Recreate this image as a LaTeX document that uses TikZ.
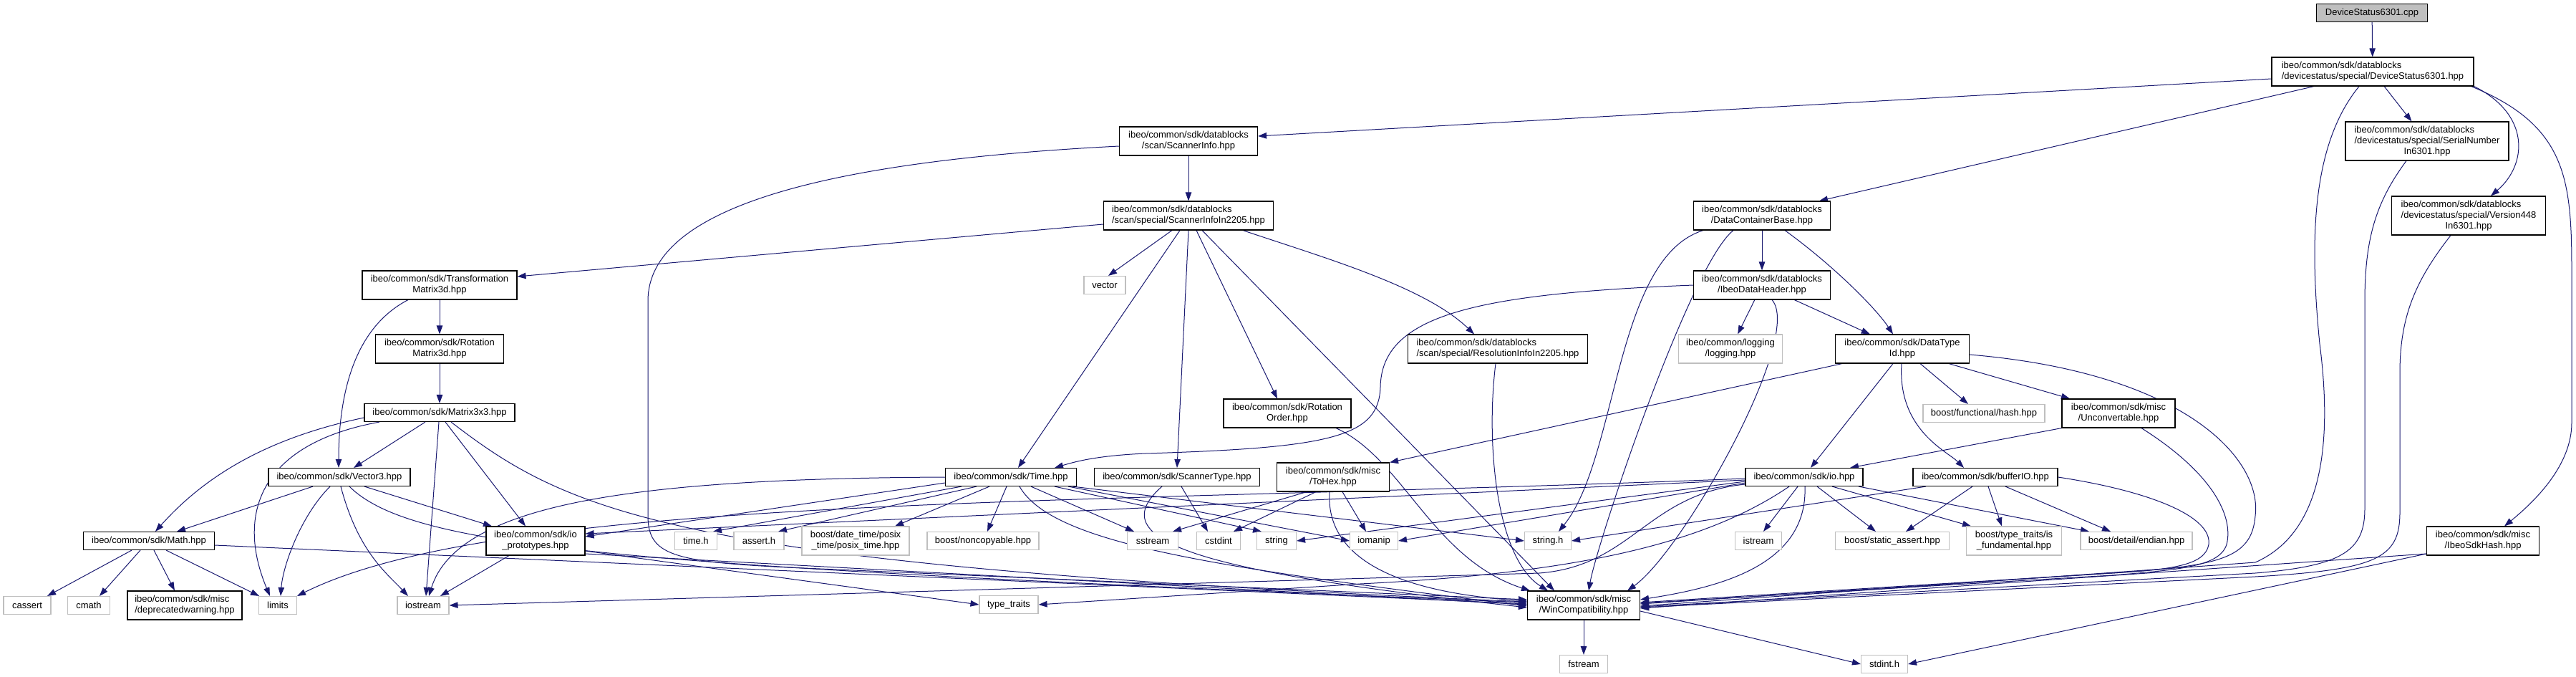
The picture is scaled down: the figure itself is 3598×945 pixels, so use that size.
\documentclass[tikz,border=0pt]{standalone}
\usepackage{fontspec}
\setmainfont{Liberation Sans}
\usetikzlibrary{arrows.meta}
\definecolor{edgec}{HTML}{191970}
\definecolor{grayb}{HTML}{BFBFBF}
\newcommand\TL[2]{\begin{tabular}{@{}l@{}}#1\\#2\end{tabular}}
\newcommand\TC[2]{\begin{tabular}{@{}l@{}}#1\\\multicolumn{1}{@{}c@{}}{#2}\end{tabular}}
\newcommand\TTC[3]{\begin{tabular}{@{}l@{}}#1\\#2\\\multicolumn{1}{@{}c@{}}{#3}\end{tabular}}
\pgfdeclarelayer{bg}
\pgfsetlayers{bg,main}
\begin{document}
\begin{tikzpicture}[x=1pt,y=-1pt,
  nd/.style={draw=black,line width=1.1pt,fill=white,inner sep=0pt,minimum height=25pt,
    font=\fontsize{13pt}{15pt}\selectfont},
  gn/.style={nd,draw=grayb},
  e/.style={draw=edgec,line width=1pt,-{Triangle[length=12pt,width=8.5pt]}}]
\useasboundingbox (0,0) rectangle (3598,945);

\node[nd,fill=grayb,minimum width=155pt] (A) at (3313,18) {DeviceStatus6301.cpp};
\node[nd,minimum width=282pt,minimum height=40pt] (B) at (3314,100) {\TL{ibeo/common/sdk/datablocks}{/devicestatus/special/DeviceStatus6301.hpp}};
\node[nd,minimum width=228pt,minimum height=54pt] (SN) at (3390,197) {\TTC{ibeo/common/sdk/datablocks}{/devicestatus/special/SerialNumber}{In6301.hpp}};
\node[nd,minimum width=215pt,minimum height=54pt] (V448) at (3448,301) {\TTC{ibeo/common/sdk/datablocks}{/devicestatus/special/Version448}{In6301.hpp}};
\node[nd,minimum width=193pt,minimum height=40pt] (SI) at (1660,197) {\TC{ibeo/common/sdk/datablocks}{/scan/ScannerInfo.hpp}};
\node[nd,minimum width=237pt,minimum height=40pt] (SI2) at (1660,301) {\TL{ibeo/common/sdk/datablocks}{/scan/special/ScannerInfoIn2205.hpp}};
\node[nd,minimum width=191pt,minimum height=40pt] (DCB) at (2461,301) {\TC{ibeo/common/sdk/datablocks}{/DataContainerBase.hpp}};
\node[nd,minimum width=191pt,minimum height=40pt] (IDH) at (2461,398) {\TC{ibeo/common/sdk/datablocks}{/IbeoDataHeader.hpp}};
\node[nd,minimum width=216pt,minimum height=40pt] (TM) at (614,398) {\TC{ibeo/common/sdk/Transformation}{Matrix3d.hpp}};
\node[gn,minimum width=58pt] (VEC) at (1543,398) {vector};
\node[nd,minimum width=179pt,minimum height=40pt] (RM) at (614,487) {\TC{ibeo/common/sdk/Rotation}{Matrix3d.hpp}};
\node[nd,minimum width=251pt,minimum height=40pt] (RI) at (2092,487) {\TL{ibeo/common/sdk/datablocks}{/scan/special/ResolutionInfoIn2205.hpp}};
\node[gn,minimum width=145pt,minimum height=40pt] (LOG) at (2417,487) {\TC{ibeo/common/logging}{/logging.hpp}};
\node[nd,minimum width=187pt,minimum height=40pt] (DTI) at (2657,487) {\TC{ibeo/common/sdk/DataType}{Id.hpp}};
\node[nd,minimum width=210pt] (M33) at (614,576) {ibeo/common/sdk/Matrix3x3.hpp};
\node[nd,minimum width=178pt,minimum height=40pt] (RO) at (1798,577) {\TC{ibeo/common/sdk/Rotation}{Order.hpp}};
\node[gn,minimum width=170pt] (HASH) at (2771,577) {boost/functional/hash.hpp};
\node[nd,minimum width=158pt,minimum height=40pt] (UC) at (2959,577) {\TC{ibeo/common/sdk/misc}{/Unconvertable.hpp}};
\node[nd,minimum width=198pt] (VEC3) at (474,666) {ibeo/common/sdk/Vector3.hpp};
\node[nd,minimum width=183pt] (TIME) at (1412,666) {ibeo/common/sdk/Time.hpp};
\node[nd,minimum width=231pt] (ST) at (1644,666) {ibeo/common/sdk/ScannerType.hpp};
\node[nd,minimum width=157pt,minimum height=40pt] (TH) at (1862,666) {\TC{ibeo/common/sdk/misc}{/ToHex.hpp}};
\node[nd,minimum width=164pt] (IO) at (2520,666) {ibeo/common/sdk/io.hpp};
\node[nd,minimum width=202pt] (BIO) at (2773,666) {ibeo/common/sdk/bufferIO.hpp};
\node[nd,minimum width=183pt] (MATH) at (208,755) {ibeo/common/sdk/Math.hpp};
\node[nd,minimum width=138pt,minimum height=40pt] (IOP) at (748,755) {\TC{ibeo/common/sdk/io}{\_prototypes.hpp}};
\node[gn,minimum width=59pt] (TIMEH) at (972,755) {time.h};
\node[gn,minimum width=70pt] (ASSERTH) at (1060,755) {assert.h};
\node[gn,minimum width=150pt,minimum height=40pt] (POSIX) at (1195,755) {\TC{boost/date\_time/posix}{\_time/posix\_time.hpp}};
\node[gn,minimum width=156pt] (NONC) at (1373,755) {boost/noncopyable.hpp};
\node[gn,minimum width=71pt] (SSTREAM) at (1610,755) {sstream};
\node[gn,minimum width=61pt] (CSTDINT) at (1702,755) {cstdint};
\node[gn,minimum width=55pt] (STRING) at (1783,755) {string};
\node[gn,minimum width=67pt] (IOMANIP) at (1919,755) {iomanip};
\node[gn,minimum width=65pt] (STRINGH) at (2162,755) {string.h};
\node[gn,minimum width=65pt] (ISTREAM) at (2456,755) {istream};
\node[gn,minimum width=159pt] (SASSERT) at (2643,755) {boost/static\_assert.hpp};
\node[gn,minimum width=133pt,minimum height=40pt] (ISFUND) at (2813,755) {\TC{boost/type\_traits/is}{\_fundamental.hpp}};
\node[gn,minimum width=156pt] (ENDIAN) at (2984,755) {boost/detail/endian.hpp};
\node[nd,minimum width=157pt,minimum height=40pt] (SDKHASH) at (3468,755) {\TC{ibeo/common/sdk/misc}{/IbeoSdkHash.hpp}};
\node[gn,minimum width=66pt] (CASSERT) at (38,845) {cassert};
\node[gn,minimum width=59pt] (CMATH) at (124,845) {cmath};
\node[nd,minimum width=160pt,minimum height=40pt] (DEPR) at (258,845) {\TL{ibeo/common/sdk/misc}{/deprecatedwarning.hpp}};
\node[gn,minimum width=53pt] (LIMITS) at (388,845) {limits};
\node[gn,minimum width=72pt] (IOSTREAM) at (591,845) {iostream};
\node[gn,minimum width=82pt] (TT) at (1409,844) {type\_traits};
\node[nd,minimum width=157pt,minimum height=40pt] (WC) at (2212,845) {\TC{ibeo/common/sdk/misc}{/WinCompatibility.hpp}};
\node[gn,minimum width=67pt] (FSTREAM) at (2212,927) {fstream};
\node[gn,minimum width=65pt] (STDINTH) at (2632,927) {stdint.h};

\begin{pgfonlayer}{bg}
% top
\draw[e] (A) -- (B);
\draw[e] (B) -- (SN);
\draw[e] ([xshift=-82pt]B.south) -- ([xshift=80pt]DCB.north);
\draw[e] ([yshift=-10pt]B.west) -- ([yshift=7pt]SI.east);
\draw[e] (B.south east) .. controls (3535,160) and (3530,230) .. ([xshift=31pt]V448.north);
\draw[e] ([xshift=-4pt]B.south east) .. controls (3585,175) and (3592,250) .. (3592,380) -- (3592,590) .. controls (3592,650) and (3540,700) .. ([xshift=30pt]SDKHASH.north);
\draw[e] ([xshift=-19pt]B.south) .. controls (3230,200) and (3225,330) .. (3240,480) .. controls (3262,650) and (3230,750) .. (3150,785) -- ([yshift=-1pt]WC.east);
\draw[e] ([xshift=-29pt]SN.south) .. controls (3320,280) and (3303,330) .. (3303,420) -- (3303,710) .. controls (3303,770) and (3270,790) .. (3150,800) -- ([yshift=-2pt]WC.east);
\draw[e] ([xshift=-25pt]V448.south) .. controls (3375,390) and (3352,440) .. (3352,520) -- (3352,715) .. controls (3352,780) and (3320,795) .. (3150,805) -- ([yshift=-3pt]WC.east);
\draw[e] ([yshift=-18pt]SDKHASH.west) -- ([yshift=-4pt]WC.east);
\draw[e] ([yshift=-18pt]SDKHASH.west) -- (STDINTH.east);
% ScannerInfo
\draw[e] (SI) -- (SI2);
\draw[e] ([yshift=-7pt]SI.west) .. controls (1150,225) and (905,290) .. (905,420) -- (905,720) .. controls (905,775) and (940,784) .. (1100,792) -- ([yshift=8pt]WC.west);
\draw[e] ([yshift=-12pt]SI2.west) -- ([yshift=12pt]TM.east);
\draw[e] ([xshift=-23pt]SI2.south) -- ([xshift=5pt]VEC.north);
\draw[e] ([xshift=-12pt]SI2.south) -- ([xshift=10pt]TIME.north);
\draw[e] (SI2.south) -- (ST.north);
\draw[e] ([xshift=11pt]SI2.south) -- ([xshift=-14pt]RO.north);
\draw[e] ([xshift=19pt]SI2.south) -- ([xshift=-41pt]WC.north);
\draw[e] ([xshift=76pt]SI2.south) .. controls (1850,360) and (1990,400) .. ([xshift=-33pt]RI.north);
% left cluster
\draw[e] (TM) -- (RM);
\draw[e] ([xshift=-44pt]TM.south) .. controls (490,460) and (473,560) .. ([xshift=-1pt]VEC3.north);
\draw[e] (RM) -- (M33);
\draw[e] ([xshift=-20pt]M33.south) -- ([xshift=20pt]VEC3.north);
\draw[e] ([yshift=-7pt]M33.west) .. controls (380,610) and (290,660) .. ([xshift=9pt]MATH.north);
\draw[e] ([xshift=-84pt]M33.south) .. controls (360,620) and (330,720) .. ([xshift=-11pt]LIMITS.north);
\draw[e] ([xshift=-1pt]M33.south) -- ([xshift=4pt]IOSTREAM.north);
\draw[e] ([xshift=8pt]M33.south) -- ([xshift=-14pt]IOP.north);
\draw[e] ([xshift=16pt]M33.south) .. controls (800,720) and (950,790) .. ([yshift=5pt]WC.west);
\draw[e] ([xshift=-37pt]VEC3.south) -- ([xshift=39pt]MATH.north);
\draw[e] ([xshift=35pt]VEC3.south) -- ([xshift=-61pt]IOP.north);
\draw[e] ([xshift=-13pt]VEC3.south) .. controls (420,720) and (395,790) .. ([xshift=4pt]LIMITS.north);
\draw[e] ([xshift=2pt]VEC3.south) .. controls (500,770) and (540,800) .. ([xshift=-21pt]IOSTREAM.north);
\draw[e] ([xshift=14pt]VEC3.south) .. controls (580,770) and (900,790) .. ([yshift=4pt]WC.west);
\draw[e] ([xshift=-24pt]MATH.south) -- ([xshift=28pt]CASSERT.north);
\draw[e] ([xshift=-12pt]MATH.south) -- ([xshift=15pt]CMATH.north);
\draw[e] ([xshift=7pt]MATH.south) -- ([xshift=-14pt]DEPR.north);
\draw[e] ([xshift=24pt]MATH.south) -- ([xshift=-26pt]LIMITS.north);
\draw[e] ([yshift=-6pt]MATH.east) -- ([yshift=2pt]WC.west);
\draw[e] ([xshift=-37pt]IOP.south) -- ([xshift=24pt]IOSTREAM.north);
\draw[e] ([yshift=-14pt]IOP.east) -- (TT.west);
\draw[e] ([yshift=-18pt]IOP.east) -- ([yshift=1pt]WC.west);
% Time
\draw[e] ([xshift=-69pt]TIME.south) -- ([xshift=24pt]TIMEH.north);
\draw[e] ([xshift=-48pt]TIME.south) -- ([xshift=27pt]ASSERTH.north);
\draw[e] ([xshift=-30pt]TIME.south) -- ([xshift=55pt]POSIX.north);
\draw[e] ([xshift=-6pt]TIME.south) -- ([xshift=6pt]NONC.north);
\draw[e] ([xshift=28pt]TIME.south) -- ([xshift=-26pt]SSTREAM.north);
\draw[e] ([xshift=61pt]TIME.south) -- ([xshift=-21pt]STRING.north);
\draw[e] ([xshift=80pt]TIME.south) -- (IOMANIP.west);
\draw[e] ([xshift=86pt]TIME.south) -- (STRINGH.west);
\draw[e] ([yshift=-8pt]TIME.west) -- ([yshift=6pt]IOP.east);
\draw[e] (TIME.west) .. controls (900,668) and (640,700) .. ([xshift=8pt]IOSTREAM.north);
\draw[e] ([xshift=12pt]TIME.south) .. controls (1470,760) and (1700,792) .. ([yshift=-1pt]WC.west);
\draw[e] ([xshift=6pt]ST.south) -- ([xshift=-15pt]CSTDINT.north);
\draw[e] ([xshift=-21pt]ST.south) .. controls (1530,760) and (1700,800) .. ([yshift=-3pt]WC.west);
\draw[e] ([xshift=-37pt]TH.south) -- ([xshift=28pt]SSTREAM.north);
\draw[e] ([xshift=-24pt]TH.south) -- ([xshift=21pt]CSTDINT.north);
\draw[e] ([xshift=13pt]TH.south) -- ([xshift=-11pt]IOMANIP.north);
\draw[e] ([xshift=-5pt]TH.south) .. controls (1850,800) and (2000,830) .. ([yshift=6pt]WC.west);
\draw[e] ([xshift=68pt]RO.south) .. controls (1960,640) and (2000,780) .. ([xshift=4pt]WC.north west);
\draw[e] ([xshift=-3pt]RI.south) .. controls (2075,620) and (2090,780) .. ([xshift=-50pt]WC.north);
% data container
\draw[e] (DCB) -- (IDH);
\draw[e] ([xshift=32pt]DCB.south) .. controls (2560,370) and (2620,430) .. ([xshift=-13pt]DTI.north);
\draw[e] ([xshift=-82pt]DCB.south) .. controls (2255,360) and (2260,640) .. ([xshift=15pt]STRINGH.north);
\draw[e] ([xshift=-40pt]DCB.south) .. controls (2360,370) and (2230,760) .. ([xshift=7pt]WC.north);
\draw[e] (IDH) -- (LOG);
\draw[e] (IDH) -- (DTI);
\draw[e] ([xshift=14pt]IDH.south) .. controls (2520,470) and (2350,770) .. ([xshift=61pt]WC.north);
\draw[e] (IDH.west) .. controls (2060,410) and (1930,440) .. (1928,540) .. controls (1926,610) and (1860,625) .. (1600,633) .. controls (1530,636) and (1500,645) .. ([xshift=61pt]TIME.north);
\draw[e] ([xshift=-84pt]DTI.south) -- (TH.north east);
\draw[e] ([xshift=-13pt]DTI.south) -- ([xshift=9pt]IO.north);
\draw[e] ([xshift=25pt]DTI.south) -- ([xshift=-22pt]HASH.north);
\draw[e] ([xshift=65pt]DTI.south) -- ([xshift=-68pt]UC.north);
\draw[e] ([xshift=-1pt]DTI.south) .. controls (2650,600) and (2720,630) .. ([xshift=-30pt]BIO.north);
\draw[e] ([yshift=-8pt]DTI.east) .. controls (3050,520) and (3160,640) .. (3150,720) .. controls (3145,780) and (3100,790) .. (2950,800) -- ([yshift=2pt]WC.east);
\draw[e] (UC.south west) -- ([xshift=64pt]IO.north);
\draw[e] ([xshift=32pt]UC.south) .. controls (3090,660) and (3120,720) .. (3110,760) .. controls (3100,790) and (3050,795) .. (2950,803) -- ([yshift=3pt]WC.east);
% io
\draw[e] ([xshift=-9pt]IO.south) -- ([xshift=7pt]ISTREAM.north);
\draw[e] ([xshift=18pt]IO.south) -- ([xshift=-23pt]SASSERT.north);
\draw[e] ([xshift=39pt]IO.south) -- ([xshift=-60pt]ISFUND.north);
\draw[e] ([xshift=76pt]IO.south) -- ([xshift=-66pt]ENDIAN.north);
\draw[e] ([yshift=-4pt]IO.west) -- ([yshift=10pt]IOP.east);
\draw[e] ([yshift=-6pt]IO.west) -- (STRING.east);
\draw[e] ([yshift=-8pt]IO.west) -- (IOMANIP.east);
\draw[e] ([yshift=-2pt]IO.west) .. controls (1500,705) and (700,690) .. (LIMITS.north east);
\draw[e] ([yshift=-10pt]IO.west) .. controls (2300,690) and (2280,790) .. (2150,800) -- (IOSTREAM.east);
\draw[e] ([xshift=-21pt]IO.south) .. controls (2380,760) and (2200,800) .. (1900,815) -- (TT.east);
\draw[e] ([xshift=1pt]IO.south) .. controls (2525,790) and (2400,820) .. ([yshift=8pt]WC.east);
\draw[e] ([xshift=-18pt]BIO.south) -- ([xshift=19pt]SASSERT.north);
\draw[e] ([xshift=4pt]BIO.south) -- ([xshift=-17pt]ISFUND.north);
\draw[e] ([xshift=28pt]BIO.south) -- ([xshift=-36pt]ENDIAN.north);
\draw[e] ([xshift=-83pt]BIO.south) -- (STRINGH.east);
\draw[e] (BIO.east) .. controls (3000,685) and (3090,720) .. (3085,760) .. controls (3080,790) and (3030,795) .. (2950,800) -- ([yshift=4pt]WC.east);
% WinCompat
\draw[e] (WC) -- (FSTREAM);
\draw[e] ([yshift=-8pt]WC.east) -- (STDINTH.west);
\end{pgfonlayer}
\end{tikzpicture}
\end{document}
